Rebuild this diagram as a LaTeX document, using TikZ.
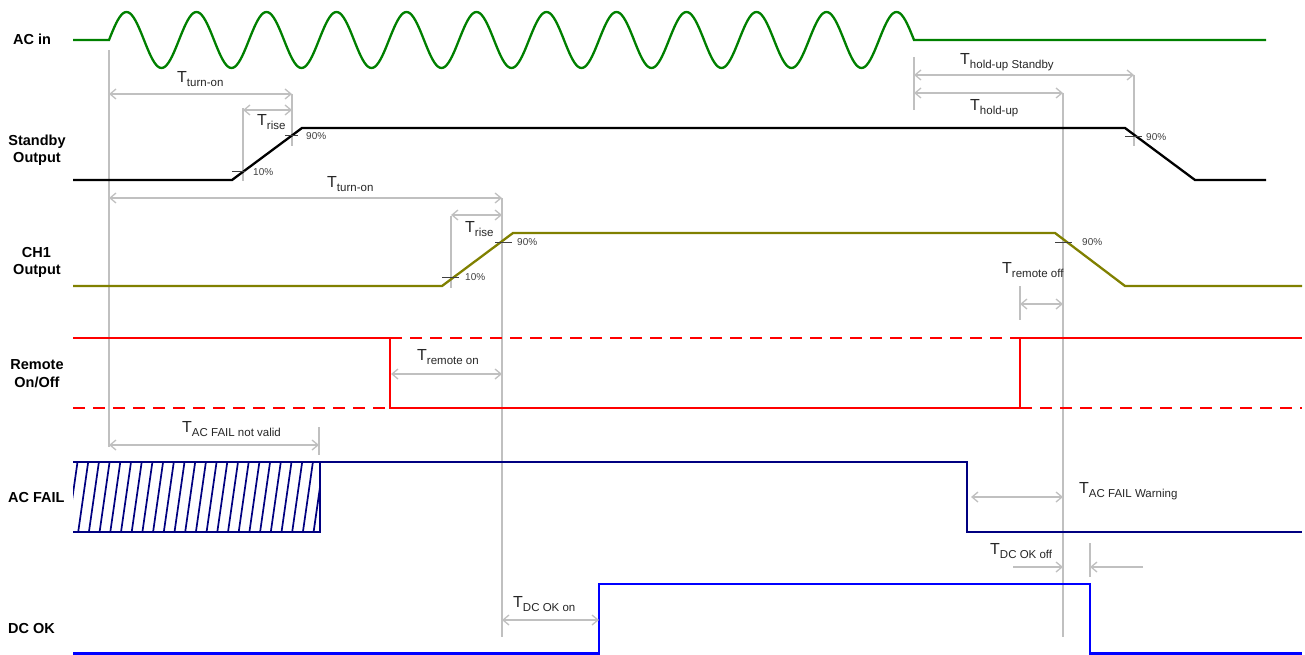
\documentclass[tikz,border=0pt]{standalone}
\usepackage{fontspec}
\setmainfont{Liberation Sans}
\usetikzlibrary{arrows.meta}
\definecolor{acgreen}{HTML}{008000}
\definecolor{chol}{HTML}{808000}
\definecolor{remred}{HTML}{FF0000}
\definecolor{acnavy}{HTML}{000080}
\definecolor{dcblue}{HTML}{0000FF}
\definecolor{lgray}{HTML}{C0C0C0}
\definecolor{tickc}{HTML}{404040}
\newcommand\Tlab[1]{{\fontsize{16}{16}\selectfont T}\raisebox{-4pt}{\fontsize{11.5}{11.5}\selectfont #1}}
\begin{document}
\begin{tikzpicture}[x=1pt,y=-1pt,
  sig/.style={line width=2.3pt, line join=miter},
  gl/.style={draw=lgray, line width=1.3pt},
  dim/.style={gl, {Straight Barb[length=6pt,width=10pt]}-{Straight Barb[length=6pt,width=10pt]}},
  dimr/.style={gl, -{Straight Barb[length=6pt,width=10pt]}},
  tickm/.style={draw=tickc, line width=1pt},
  pct/.style={font=\fontsize{10}{10}\selectfont, text=tickc, anchor=west, inner sep=0pt},
  lbl/.style={font=\bfseries\fontsize{14.5}{14.5}\selectfont, inner sep=0pt},
  tl/.style={anchor=base west, inner sep=0pt, text=black!85}]
\useasboundingbox (0,0) rectangle (1305,655);

% ---------- left labels ----------
\node[lbl, anchor=base west] (lac) at (13,45) {AC in};
\node[lbl, anchor=base] (lsb1) at (37,146) {Standby};
\node[lbl, anchor=base] (lsb2) at (37,163) {Output};
\node[lbl, anchor=base] (lch1) at (36.5,257) {CH1};
\node[lbl, anchor=base] (lch2) at (37,274) {Output};
\node[lbl, anchor=base] (lrm1) at (37,369) {Remote};
\node[lbl, anchor=base] (lrm2) at (37,387) {On/Off};
\node[lbl, anchor=base west] (laf) at (8,502) {AC FAIL};
\node[lbl, anchor=base west] (ldc) at (8,633) {DC OK};

% ---------- gray reference lines ----------
\coordinate (v1t) at (109,50);   \coordinate (v1b) at (109,447);
\coordinate (v2t) at (243,108);  \coordinate (v2b) at (243,181);
\coordinate (v3t) at (292,94);   \coordinate (v3b) at (292,146);
\coordinate (v4t) at (502,198);  \coordinate (v4b) at (502,637);
\coordinate (v5t) at (451,216);  \coordinate (v5b) at (451,288);
\coordinate (v6t) at (914,57);   \coordinate (v6b) at (914,110);
\coordinate (v7t) at (1134,75);  \coordinate (v7b) at (1134,146);
\coordinate (v8t) at (1063,93);  \coordinate (v8b) at (1063,637);
\coordinate (v9t) at (1020,286); \coordinate (v9b) at (1020,320);
\coordinate (v10t) at (319,427); \coordinate (v10b) at (319,455);
\coordinate (v11t) at (1090,543);\coordinate (v11b) at (1090,577);
\foreach \v in {v1,v2,v3,v4,v5,v6,v7,v8,v9,v10,v11}
  \draw[gl] (\v t) -- (\v b);

% ---------- AC in ----------
\draw[sig, acgreen] (73,40) -- (109,40)
  -- plot[domain=0:805, samples=461, smooth] ({109+\x},{40-28*sin(\x/70*360)})
  -- (1266,40);

% ---------- Standby Output ----------
\draw[sig, black] (73,180) -- (232,180) -- (302,128) -- (1125,128) -- (1195,180) -- (1266,180);
\draw[tickm] (232,172) -- (245,172);
\node[pct] (p1) at (253,172.5) {10\%};
\draw[tickm] (285,136) -- (298,136);
\node[pct] (p2) at (306,136) {90\%};
\draw[tickm] (1125,137) -- (1142,137);
\node[pct] (p3) at (1146,137) {90\%};

% ---------- CH1 Output ----------
\draw[sig, chol] (73,286) -- (442,286) -- (513,233) -- (1055,233) -- (1125,286) -- (1302,286);
\draw[tickm] (442,277) -- (459,277);
\node[pct] (p4) at (465,277) {10\%};
\draw[tickm] (495,242) -- (512,242);
\node[pct] (p5) at (517,242) {90\%};
\draw[tickm] (1055,242) -- (1072,242);
\node[pct] (p6) at (1082,242) {90\%};

% ---------- Remote On/Off ----------
\draw[sig, remred] (73,338) -- (390,338) -- (390,408) -- (1020,408) -- (1020,338) -- (1302,338);
\draw[sig, remred, dash pattern=on 12pt off 8pt] (73,408) -- (390,408);
\draw[sig, remred, dash pattern=on 12pt off 8pt] (390,338) -- (1020,338);
\draw[sig, remred, dash pattern=on 12pt off 8pt] (1020,408) -- (1302,408);

% ---------- AC FAIL ----------
\begin{scope}
  \clip (73,462) rectangle (320,532);
  \foreach \i in {0,...,23}
    \draw[acnavy, line width=1.7pt] ({67.5+10.7*\i},532) -- ({77.5+10.7*\i},462);
\end{scope}
\draw[sig, acnavy] (73,532) -- (320,532) -- (320,462);
\draw[sig, acnavy] (73,462) -- (967,462) -- (967,532) -- (1302,532);

% ---------- DC OK ----------
\draw[sig, dcblue] (73,653.5) -- (599,653.5) -- (599,584) -- (1090,584) -- (1090,653.5) -- (1302,653.5);

% ---------- timing arrows ----------
\coordinate (a1s) at (109,94);  \coordinate (a1e) at (292,94);
\draw[dim] (a1s) -- (a1e);
\node[tl] (t1) at (177,83) {\Tlab{turn-on}};
\coordinate (a2s) at (243,110); \coordinate (a2e) at (292,110);
\draw[dim] (a2s) -- (a2e);
\node[tl] (t2) at (257,126) {\Tlab{rise}};
\coordinate (a3s) at (109,198); \coordinate (a3e) at (502,198);
\draw[dim] (a3s) -- (a3e);
\node[tl] (t3) at (327,187) {\Tlab{turn-on}};
\coordinate (a4s) at (451,215); \coordinate (a4e) at (502,215);
\draw[dim] (a4s) -- (a4e);
\node[tl] (t4) at (465,232) {\Tlab{rise}};
\coordinate (a5s) at (914,75);  \coordinate (a5e) at (1134,75);
\draw[dim] (a5s) -- (a5e);
\node[tl] (t5) at (960,65) {\Tlab{hold-up Standby}};
\coordinate (a6s) at (914,93);  \coordinate (a6e) at (1063,93);
\draw[dim] (a6s) -- (a6e);
\node[tl] (t6) at (970,111) {\Tlab{hold-up}};
\coordinate (a7s) at (1020,304); \coordinate (a7e) at (1063,304);
\draw[dim] (a7s) -- (a7e);
\node[tl] (t7) at (1002,273) {\Tlab{remote off}};
\coordinate (a8s) at (391,374); \coordinate (a8e) at (502,374);
\draw[dim] (a8s) -- (a8e);
\node[tl] (t8) at (417,360) {\Tlab{remote on}};
\coordinate (a9s) at (109,445); \coordinate (a9e) at (319,445);
\draw[dim] (a9s) -- (a9e);
\node[tl] (t9) at (182,432) {\Tlab{AC FAIL not valid}};
\coordinate (a10s) at (971,497); \coordinate (a10e) at (1063,497);
\draw[dim] (a10s) -- (a10e);
\node[tl] (t10) at (1079,493) {\Tlab{AC FAIL Warning}};
\coordinate (a11s) at (1013,567); \coordinate (a11e) at (1063,567);
\draw[dimr] (a11s) -- (a11e);
\coordinate (a12s) at (1143,567); \coordinate (a12e) at (1090,567);
\draw[dimr] (a12s) -- (a12e);
\node[tl] (t11) at (990,554) {\Tlab{DC OK off}};
\coordinate (a13s) at (502,620); \coordinate (a13e) at (599,620);
\draw[dim] (a13s) -- (a13e);
\node[tl] (t12) at (513,607) {\Tlab{DC OK on}};
\end{tikzpicture}
\end{document}
